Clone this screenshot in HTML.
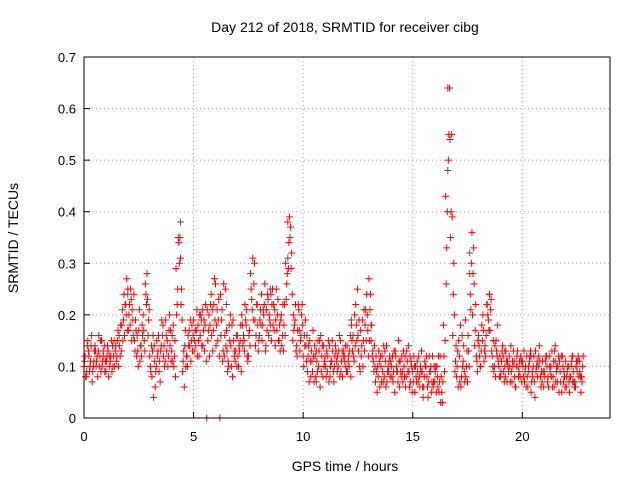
<!DOCTYPE html>
<html><head><meta charset="utf-8"><style>
body{margin:0;background:#fff}
svg{display:block;font-family:"Liberation Sans",sans-serif}
</style></head><body>
<svg id="chart" width="640" height="480">
<text x="345" y="32" text-anchor="middle" font-size="14">Day 212 of 2018, SRMTID for receiver cibg</text>
<text x="345" y="471" text-anchor="middle" font-size="14">GPS time / hours</text>
<text transform="translate(18,238) rotate(-90)" text-anchor="middle" font-size="14">SRMTID / TECUs</text>
<g id="grid"></g><g id="gray"></g><g id="red"></g>
<rect x="84" y="57" width="526" height="361" fill="none" stroke="#000"/>
</svg>
<script>
const xTicks=[0,5,10,15,20];
const yTicks=[0,0.1,0.2,0.3,0.4,0.5,0.6,0.7];
const yTickLabels=["0","0.1","0.2","0.3","0.4","0.5","0.6","0.7"];
const redA=[0.10,0.08,0.13,0.11,0.09,0.14,0.12,0.10,0.15,0.12,0.09,0.13,0.11,0.14,0.10,0.12,0.16,0.13,0.19,0.22,0.25,0.18,0.21,0.15,0.12,0.17,0.14,0.20,0.26,0.23,0.12,0.08,0.14,0.10,0.16,0.13,0.18,0.11,0.15,0.20,0.13,0.10,0.29,0.35,0.31,0.09,0.14,0.12,0.17,0.15,0.19,0.14,0.18,0.16,0.21,0.13,0.00,0.20,0.24,0.17,0.26,0.15,0.00,0.21,0.12,0.17,0.10,0.14,0.19,0.11,0.16,0.13,0.20,0.15,0.18,0.12,0.28,0.31,0.19,0.22,0.16,0.24,0.20,0.14,0.23,0.18,0.25,0.21,0.17,0.15,0.20,0.13,0.30,0.38,0.35,0.24,0.18,0.14,0.21,0.16,0.12,0.19,0.09,0.15,0.11,0.07,0.13,0.10,0.16,0.08,0.12,0.09,0.14,0.11,0.07,0.13,0.10,0.15,0.08,0.12,0.14,0.10,0.18,0.12,0.22,0.16,0.09,0.19,0.13,0.24,0.27,0.15,0.11,0.07,0.10,0.06,0.12,0.08,0.14,0.09,0.11,0.07,0.13,0.09,0.06,0.12,0.10,0.08,0.14,0.07,0.09,0.05,0.11,0.08,0.13,0.06,0.10,0.04,0.09,0.12,0.07,0.10,0.05,0.08,0.18,0.43,0.64,0.54,0.39,0.20,0.08,0.15,0.06,0.11,0.19,0.07,0.28,0.36,0.26,0.12,0.16,0.10,0.20,0.14,0.22,0.24,0.13,0.09,0.15,0.11,0.08,0.14,0.10,0.07,0.12,0.09,0.13,0.06,0.10,0.08,0.11,0.07,0.12,0.09,0.05,0.10,0.13,0.08,0.11,0.07,0.09,0.12,0.06,0.10,0.08,0.14,0.07,0.11,0.05,0.09,0.06,0.10,0.08,0.12,0.07,0.09,0.11,0.08];
const redB=[0.12,0.14,0.09,0.16,0.11,0.10,0.13,0.15,0.11,0.09,0.12,0.10,0.15,0.12,0.14,0.17,0.12,0.21,0.16,0.27,0.20,0.23,0.16,0.19,0.13,0.11,0.18,0.15,0.22,0.19,0.09,0.16,0.06,0.12,0.11,0.19,0.14,0.16,0.12,0.17,0.11,0.15,0.22,0.30,0.25,0.13,0.10,0.16,0.19,0.13,0.15,0.21,0.12,0.19,0.17,0.22,0.15,0.18,0.21,0.27,0.18,0.23,0.16,0.13,0.25,0.09,0.15,0.18,0.12,0.16,0.10,0.18,0.14,0.22,0.12,0.17,0.23,0.26,0.16,0.13,0.21,0.18,0.26,0.17,0.20,0.15,0.22,0.19,0.23,0.13,0.16,0.22,0.26,0.34,0.29,0.20,0.22,0.17,0.13,0.22,0.16,0.11,0.14,0.08,0.17,0.12,0.09,0.15,0.12,0.10,0.08,0.15,0.10,0.13,0.12,0.09,0.16,0.11,0.13,0.10,0.11,0.16,0.13,0.20,0.15,0.19,0.12,0.15,0.21,0.17,0.21,0.12,0.14,0.09,0.13,0.10,0.07,0.11,0.09,0.12,0.08,0.13,0.10,0.15,0.09,0.07,0.12,0.11,0.06,0.10,0.12,0.08,0.07,0.10,0.06,0.11,0.08,0.12,0.05,0.07,0.10,0.06,0.12,0.03,0.09,0.33,0.55,0.40,0.24,0.11,0.13,0.07,0.16,0.09,0.10,0.13,0.21,0.28,0.17,0.09,0.12,0.18,0.11,0.16,0.19,0.21,0.10,0.14,0.12,0.08,0.11,0.09,0.13,0.10,0.07,0.11,0.08,0.12,0.09,0.11,0.08,0.10,0.06,0.12,0.09,0.07,0.10,0.12,0.06,0.09,0.11,0.07,0.10,0.13,0.06,0.09,0.12,0.07,0.10,0.06,0.09,0.05,0.11,0.07,0.10,0.12,0.08,0.10];
const redC=[0.11,0.09,0.12,0.14,0.10,0.13,0.08,0.12,0.10,0.14,0.11,0.08,0.12,0.10,0.13,0.15,0.14,0.18,0.24,0.20,0.17,0.25,0.19,0.13,0.16,0.21,0.12,0.17,0.24,0.16,0.10,0.13,0.11,0.15,0.09,0.14,0.12,0.19,0.10,0.14,0.16,0.12,0.20,0.34,0.22,0.11,0.17,0.10,0.14,0.18,0.13,0.17,0.15,0.20,0.14,0.18,0.21,0.12,0.16,0.22,0.14,0.19,0.24,0.11,0.16,0.13,0.18,0.10,0.15,0.13,0.12,0.15,0.18,0.13,0.21,0.16,0.25,0.19,0.14,0.18,0.19,0.15,0.22,0.21,0.16,0.24,0.18,0.14,0.20,0.18,0.14,0.18,0.23,0.29,0.37,0.15,0.19,0.12,0.17,0.20,0.10,0.14,0.12,0.11,0.09,0.14,0.11,0.13,0.09,0.14,0.10,0.12,0.08,0.15,0.10,0.11,0.13,0.09,0.12,0.14,0.09,0.13,0.15,0.11,0.18,0.13,0.17,0.10,0.18,0.20,0.15,0.18,0.09,0.12,0.08,0.12,0.09,0.13,0.07,0.11,0.10,0.09,0.12,0.07,0.11,0.09,0.08,0.13,0.09,0.11,0.07,0.10,0.09,0.06,0.09,0.08,0.12,0.07,0.10,0.06,0.09,0.08,0.07,0.05,0.12,0.26,0.50,0.35,0.16,0.09,0.10,0.12,0.08,0.14,0.08,0.16,0.24,0.20,0.14,0.11,0.14,0.13,0.17,0.12,0.20,0.17,0.12,0.10,0.13,0.10,0.09,0.12,0.08,0.11,0.10,0.07,0.11,0.10,0.08,0.12,0.10,0.09,0.08,0.11,0.07,0.12,0.09,0.10,0.08,0.11,0.08,0.10,0.12,0.08,0.11,0.07,0.10,0.09,0.12,0.08,0.08,0.07,0.10,0.09,0.06,0.11,0.09,0.07];
const redD=[0.08,0.15,0.10,0.07,0.13,0.11,0.16,0.09,0.13,0.11,0.14,0.12,0.09,0.15,0.11,0.10,0.18,0.15,0.22,0.17,0.22,0.15,0.24,0.17,0.10,0.14,0.16,0.13,0.28,0.21,0.14,0.04,0.09,0.13,0.07,0.16,0.10,0.13,0.17,0.11,0.18,0.08,0.25,0.35,0.19,0.06,0.12,0.14,0.11,0.16,0.17,0.12,0.20,0.14,0.19,0.11,0.17,0.22,0.13,0.19,0.21,0.12,0.19,0.26,0.14,0.11,0.20,0.08,0.13,0.10,0.14,0.09,0.16,0.19,0.11,0.14,0.21,0.30,0.22,0.15,0.18,0.21,0.13,0.24,0.19,0.22,0.17,0.25,0.15,0.19,0.22,0.16,0.28,0.39,0.32,0.17,0.13,0.22,0.15,0.18,0.14,0.16,0.07,0.13,0.12,0.08,0.15,0.06,0.14,0.11,0.13,0.07,0.11,0.09,0.14,0.12,0.08,0.13,0.11,0.09,0.12,0.08,0.16,0.14,0.25,0.10,0.14,0.21,0.15,0.12,0.24,0.13,0.10,0.05,0.11,0.07,0.14,0.06,0.10,0.08,0.12,0.05,0.09,0.11,0.08,0.13,0.06,0.09,0.12,0.05,0.10,0.07,0.12,0.09,0.04,0.10,0.06,0.09,0.07,0.10,0.05,0.12,0.03,0.07,0.15,0.40,0.64,0.55,0.30,0.14,0.06,0.18,0.10,0.07,0.13,0.10,0.30,0.33,0.22,0.15,0.10,0.15,0.13,0.22,0.17,0.23,0.15,0.08,0.18,0.12,0.13,0.07,0.11,0.09,0.14,0.10,0.06,0.13,0.11,0.07,0.13,0.06,0.10,0.13,0.08,0.04,0.11,0.14,0.09,0.06,0.12,0.08,0.09,0.06,0.13,0.10,0.05,0.12,0.07,0.11,0.10,0.08,0.12,0.06,0.11,0.08,0.05,0.12];
const grayT=[0.5,2.0,4.4,6.5,8.5,9.3,10.6,12.2,13.1,16.6,17.6,18.5,19.2,20.4,21.5,22.3];
const grayV=[0.13,0.24,0.38,0.22,0.25,0.31,0.07,0.19,0.18,0.48,0.32,0.24,0.13,0.12,0.11,0.07];
const NS="http://www.w3.org/2000/svg";
const X=t=>84+t*(526/24), Y=v=>418-v*(361/0.7);
function mk(tag,a,p){const e=document.createElementNS(NS,tag);for(const k in a)e.setAttribute(k,a[k]);p.appendChild(e);return e;}
const grid=document.getElementById('grid');
xTicks.forEach(t=>{
 if(t>0){const l=mk('line',{x1:X(t),x2:X(t),y1:57,y2:418,stroke:'#aaa','stroke-dasharray':'1,3'},grid);
 
 }
 mk('line',{x1:X(t),x2:X(t),y1:418,y2:412,stroke:'#000'},grid);
 const tx=mk('text',{x:X(t),y:441,'text-anchor':'middle','font-size':13},grid);tx.textContent=t;
 
 
});
yTicks.forEach((v,i)=>{
 if(v>0&&v<0.7){const l=mk('line',{x1:84,x2:610,y1:Y(v),y2:Y(v),stroke:'#aaa','stroke-dasharray':'1,3'},grid);
 
 }
 mk('line',{x1:84,x2:90,y1:Y(v),y2:Y(v),stroke:'#000'},grid);
 const tx=mk('text',{x:76,y:Y(v)+5,'text-anchor':'end','font-size':13},grid);tx.textContent=yTickLabels[i];
 
 
});
function plus(x,y,c,g){const p=mk('path',{d:`M${x-3.5},${y}h7M${x},${y-3.5}v7`,stroke:c,'stroke-width':1,fill:'none'},g);return p;}
const gG=document.getElementById('gray');
grayT.forEach((t,i)=>{const p=plus(X(t),Y(grayV[i]),'#555',gG);
 
 });
const gR=document.getElementById('red');
[[redA,0],[redB,0.05],[redC,0.025],[redD,0.075]].forEach(([arr,off])=>{
 arr.forEach((v,i)=>{const p=plus(X(i*0.1+off),Y(v),'#f00',gR);
  
  });
});
</script>
</body></html>
